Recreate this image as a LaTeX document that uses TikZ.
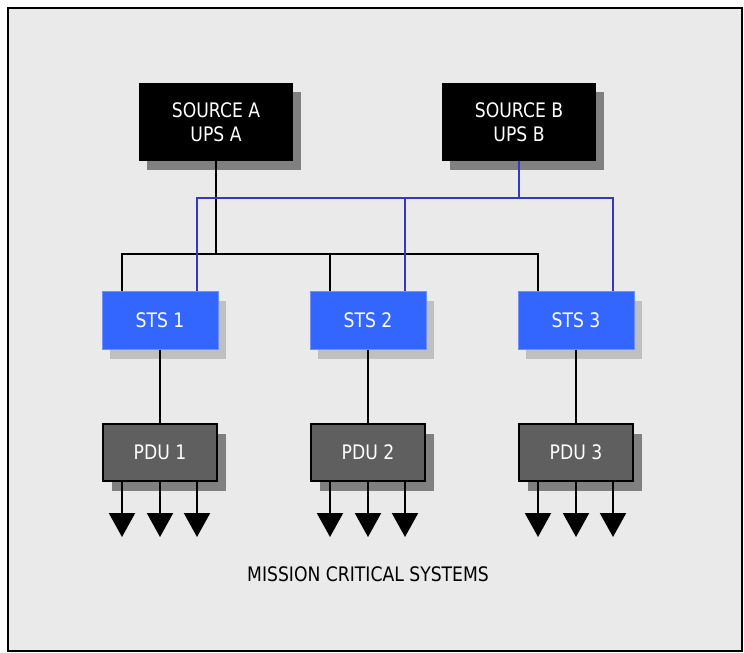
\documentclass[tikz,border=0pt]{standalone}
\usepackage{fontspec}
\setmainfont[FakeStretch=0.86]{DejaVu Sans}
\usetikzlibrary{shadows,arrows.meta}
\definecolor{bg}{HTML}{EAEAEA}
\definecolor{stsblue}{HTML}{3366FF}
\definecolor{stsedge}{HTML}{6F8FFF}
\definecolor{linkblue}{HTML}{3636CC}
\definecolor{pdugray}{HTML}{5F5F5F}
\definecolor{darkshadow}{HTML}{808080}
\definecolor{lightshadow}{HTML}{C0C0C0}
\tikzset{
  boxtext/.style={text=white, font=\fontsize{20bp}{24bp}\selectfont, align=center, inner sep=0pt},
  srcbox/.style={boxtext, fill=black, minimum width=154bp, minimum height=78bp,
    general shadow={fill=darkshadow, shadow xshift=8bp, shadow yshift=-9bp}},
  stsbox/.style={boxtext, fill=stsblue, draw=stsedge, line width=1bp, minimum width=116bp, minimum height=58bp,
    general shadow={fill=lightshadow, shadow xshift=8bp, shadow yshift=-10bp}},
  pdubox/.style={boxtext, fill=pdugray, draw=black, line width=2bp, minimum width=114bp, minimum height=57bp,
    general shadow={fill=darkshadow, shadow xshift=9bp, shadow yshift=-10bp}},
  blackline/.style={draw=black, line width=2.2bp},
  blueline/.style={draw=linkblue, line width=2.2bp},
  outarrow/.style={draw=black, line width=2.2bp, -{Triangle[width=26bp,length=24bp]}},
}
\begin{document}
\begin{tikzpicture}[x=1bp,y=-1bp]
\useasboundingbox (0,0) rectangle (744,653);
\clip (0,0) rectangle (744,653);
\fill[white] (0,0) rectangle (744,653);
\draw[fill=bg, line width=2.8bp] (8,8) rectangle (742,651);

\node[srcbox] (srcA) at (216,122) {SOURCE A\\UPS A};
\node[srcbox] (srcB) at (519,122) {SOURCE B\\UPS B};

\node[stsbox] (sts1) at (160,320) {STS 1};
\node[stsbox] (sts2) at (368,320) {STS 2};
\node[stsbox] (sts3) at (576,320) {STS 3};

\node[pdubox] (pdu1) at (160,452.5) {PDU 1};
\node[pdubox] (pdu2) at (368,452.5) {PDU 2};
\node[pdubox] (pdu3) at (576,452.5) {PDU 3};

\coordinate (bk) at (216,254);
\coordinate (bb) at (519,198);

% black feed from source A
\draw[blackline] (srcA.south) -- (bk);
\draw[blackline] ([xshift=-38bp]sts1.north) |- (bk) -| ([xshift=-38bp]sts3.north);
\draw[blackline] ([xshift=-38bp]sts2.north) -- ([xshift=-38bp]sts2.north |- bk);

% blue feed from source B
\draw[blueline] (srcB.south) -- (bb);
\draw[blueline] ([xshift=37bp]sts1.north) |- (bb) -| ([xshift=37bp]sts3.north);
\draw[blueline] ([xshift=37bp]sts2.north) -- ([xshift=37bp]sts2.north |- bb);

% STS to PDU
\foreach \i in {1,2,3} {
  \draw[blackline] (sts\i.south) -- (pdu\i.north);
  \coordinate (o\i a) at ([xshift=-38bp]pdu\i.south |- 0,537);
  \coordinate (o\i b) at (pdu\i.south |- 0,537);
  \coordinate (o\i c) at ([xshift=37bp]pdu\i.south |- 0,537);
  \draw[outarrow] ([xshift=-38bp]pdu\i.south) -- (o\i a);
  \draw[outarrow] (pdu\i.south) -- (o\i b);
  \draw[outarrow] ([xshift=37bp]pdu\i.south) -- (o\i c);
}

\node[font=\fontsize{20bp}{24bp}\selectfont, inner sep=0pt] (mcs) at (368,574) {MISSION CRITICAL SYSTEMS};
\end{tikzpicture}
\end{document}
